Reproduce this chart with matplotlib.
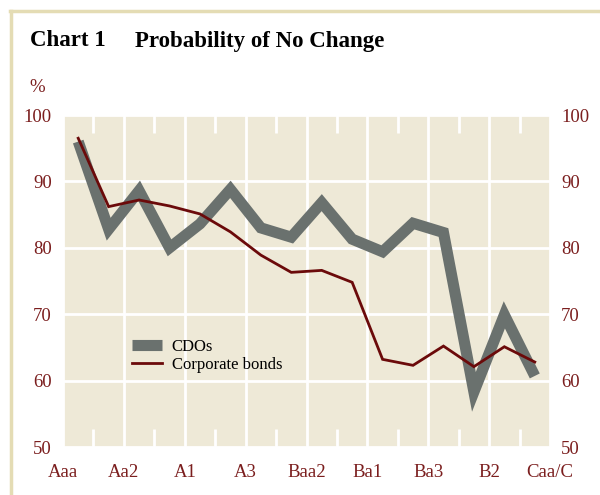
import matplotlib
matplotlib.use('Agg')
import matplotlib.pyplot as plt
from matplotlib.lines import Line2D

# valores (16 puntos, Aaa ... ultima categoria)
ratings = ['Aaa', 'Aa1', 'Aa2', 'Aa3', 'A1', 'A2', 'A3', 'Baa1', 'Baa2',
           'Baa3', 'Ba1', 'Ba2', 'Ba3', 'B1', 'B2', 'B3']
cdos = [96.0, 82.8, 88.6, 80.0, 83.6, 88.8, 83.0, 81.6, 86.8, 81.3,
        79.4, 83.7, 82.3, 58.3, 69.9, 60.7]
corporate = [96.5, 86.2, 87.2, 86.3, 85.1, 82.4, 78.9, 76.3, 76.6, 74.8,
             63.2, 62.3, 65.2, 62.1, 65.1, 62.8]
tick_labels = ['Aaa', 'Aa2', 'A1', 'A3', 'Baa2', 'Ba1', 'Ba3', 'B2', 'Caa/C']

red = '#7B1E1E'
plt.rcParams['font.family'] = ['Liberation Serif', 'DejaVu Serif']

fig = plt.figure(figsize=(6, 4.95), dpi=100)
ax = fig.add_axes([63 / 600, 48 / 495, 487 / 600, 332 / 495])
ax.set_facecolor('#EEE9D7')

x = [i + 0.5 for i in range(len(ratings))]
ax.plot(x, cdos, color='#6A716E', lw=8, solid_joinstyle='miter',
        solid_capstyle='butt', label='CDOs', zorder=3)
ax.plot(x, corporate, color='#6B0A0A', lw=2, solid_joinstyle='miter',
        label='Corporate bonds', zorder=4)

ax.set_xlim(0, 16)
ax.set_ylim(50, 100)
ax.set_yticks(range(50, 101, 10))
ax.set_xticks(range(0, 17, 2))
ax.set_xticklabels(tick_labels)
ax.set_xticks(range(1, 16, 2), minor=True)

ax.grid(True, which='major', color='white', lw=2)
ax.set_axisbelow(True)
for s in ax.spines.values():
    s.set_visible(False)

ax.tick_params(axis='y', which='both', left=False, right=False, length=0,
               labelleft=True, labelright=True, labelsize=13.5,
               labelcolor=red, pad=8)
ax.tick_params(axis='x', which='major', length=0, labelsize=13.5,
               labelcolor=red, pad=12)
ax.tick_params(axis='x', which='minor', direction='in', length=13,
               width=2, color='white', top=True, bottom=True)

leg = ax.legend(loc='upper left', bbox_to_anchor=(0.11, 0.37),
                frameon=False, fontsize=12, handlelength=1.8,
                handletextpad=0.6, labelspacing=0.1)

fig.text(30 / 600, 1 - 41 / 495, 'Chart 1', fontsize=16.5, fontweight='bold',
         va='center', ha='left')
fig.text(135 / 600, 1 - 41 / 495, 'Probability of No Change', fontsize=16.5,
         fontweight='bold', va='center', ha='left')
fig.text(29 / 600, 1 - 87 / 495, '%', fontsize=13.5, color=red,
         va='center', ha='left')

# marco beige de la pagina
fig.add_artist(Line2D([10 / 600, 1], [1 - 11 / 495, 1 - 11 / 495],
                      transform=fig.transFigure, color='#E4DCB4', lw=2.5))
fig.add_artist(Line2D([11 / 600, 11 / 600], [0, 1 - 11 / 495],
                      transform=fig.transFigure, color='#E4DCB4', lw=2.5))

fig.savefig('out.png', dpi=100)
